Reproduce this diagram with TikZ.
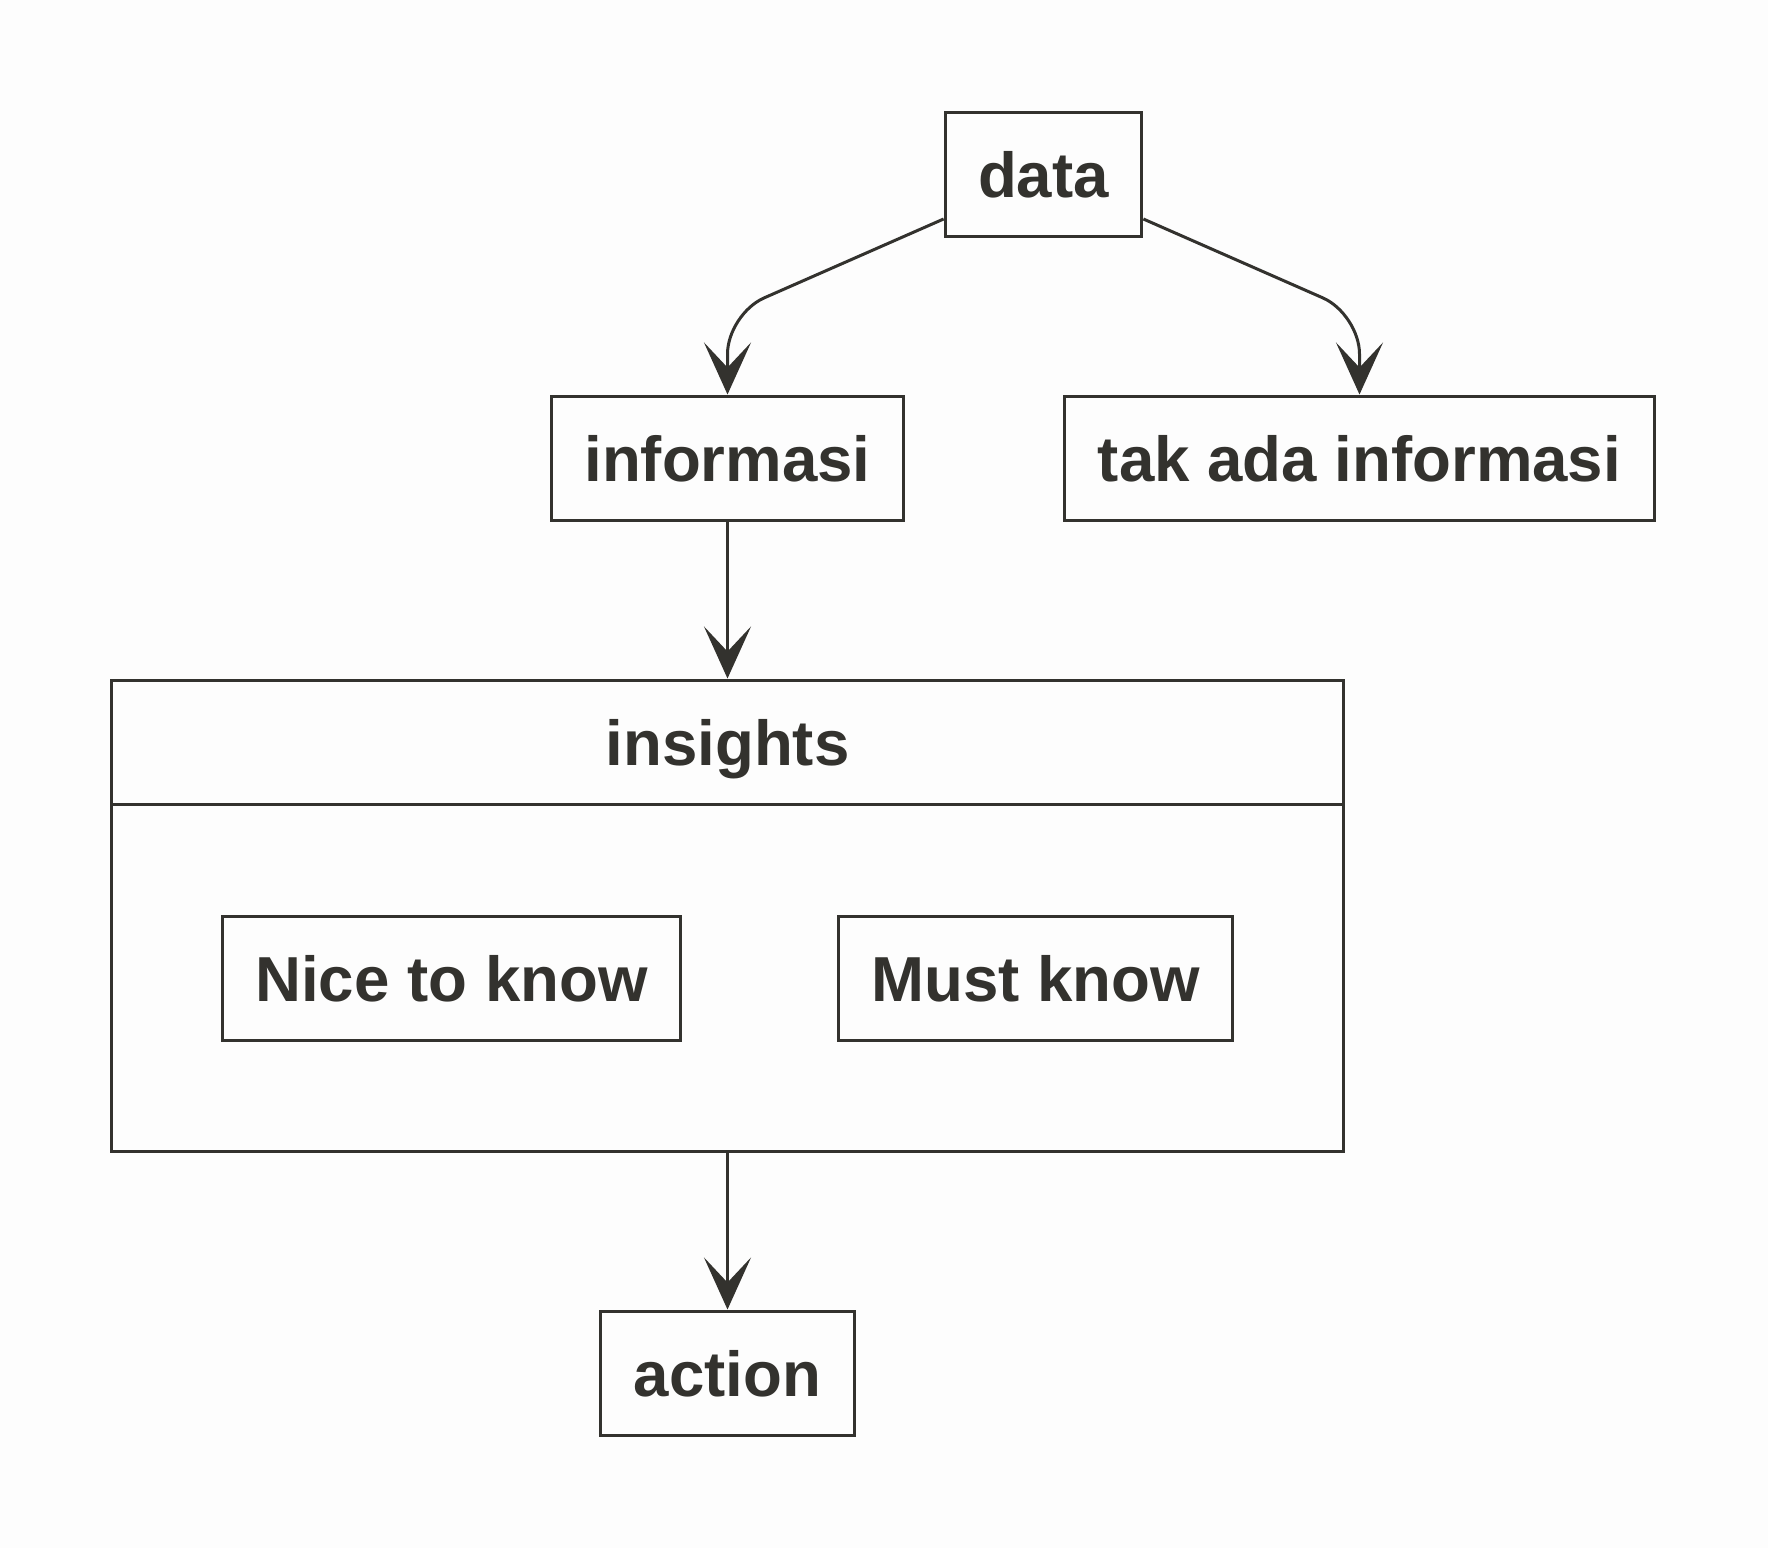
\documentclass[tikz,border=0pt]{standalone}
\usepackage{fontspec}
\setmainfont{Liberation Sans}
\usetikzlibrary{positioning, arrows.meta}
\definecolor{ink}{HTML}{33322E}
\definecolor{paper}{HTML}{FDFDFD}
\tikzset{
  box/.style={draw=ink, text=ink, line width=1.5pt, fill=paper, minimum height=62pt,
    inner xsep=16.5pt, text depth=0pt, font=\fontsize{31.8}{38}\selectfont\bfseries},
  flow/.style={draw=ink, line width=1.5pt, rounded corners=20pt,
    -{Stealth[length=26pt, width=23.5pt, inset=12.5pt]}},
}

\begin{document}
\begin{tikzpicture}[x=0.5pt, y=-0.5pt]
	\fill[paper] (0,0) rectangle (1768,1548);
	\useasboundingbox (0,0) rectangle (1768,1548);
	
	\node[box] (data) at (1043.5,174) {data};
	\node[box] (info) at (727.5,458) {informasi};
	\node[box] (noinfo) at (1359.5,458) {tak ada informasi};
	
	% insights frame: header and body
	\node[box, minimum width=616pt] (insights) at (727.5,742) {insights};
	\node[box, minimum width=616pt, minimum height=173.5pt] (insightsbody) at (727.5,977.5) {};
	\node[box] (nice) at (451.5,978) {Nice to know};
	\node[box] (must) at (1035.5,978) {Must know};
	
	\node[box] (action) at (727.5,1373) {action};
	
	\coordinate (lbend) at (727.5,314);
	\coordinate (rbend) at (1359.5,314);
	\draw[flow] ([yshift=-22.5pt]data.west) -- (lbend) -- (info.north);
	\draw[flow] ([yshift=-22.5pt]data.east) -- (rbend) -- (noinfo.north);
	\draw[flow] (info) -- (insights);
	\draw[flow] (insightsbody) -- (action);
\end{tikzpicture}
\end{document}
